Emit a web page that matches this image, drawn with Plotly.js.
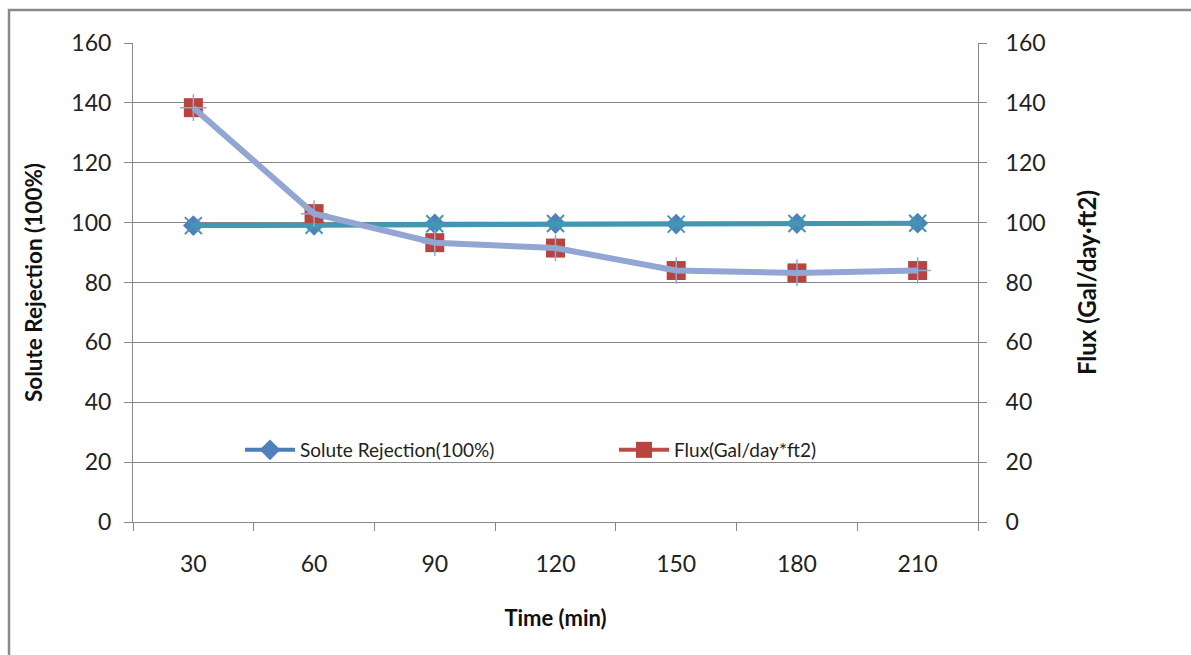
<!DOCTYPE html>
<html>
<head>
<meta charset="utf-8">
<script src="https://cdn.plot.ly/plotly-3.0.1.min.js"></script>
<style>
  html, body { margin: 0; padding: 0; background: #fff; }
  #chart { width: 1191px; height: 655px; }
</style>
</head>
<body>
<div id="chart"></div>
<script>
// Data
const timeLabels = ['30', '60', '90', '120', '150', '180', '210'];
const soluteRejection = [99.0, 99.1, 99.6, 99.7, 99.5, 99.7, 99.8];
const flux = [138.4, 103.0, 93.3, 91.5, 84.0, 83.2, 84.0];
const yTicks = [0, 20, 40, 60, 80, 100, 120, 140, 160];

const seriesNames = ['Solute Rejection(100%)', 'Flux(Gal/day*ft2)'];

const FONT = 'Lato, "Open Sans", sans-serif';
const AXIS_GRAY = '#868686';

const traces = [
  {
    x: timeLabels, y: soluteRejection, name: seriesNames[0], type: 'scatter', mode: 'lines+markers',
    line: { color: '#4A7EBB', width: 4 },
    marker: { symbol: 'diamond', size: 16, color: '#4F81BD' },
    yaxis: 'y'
  },
  {
    x: timeLabels, y: flux, name: seriesNames[1], type: 'scatter', mode: 'lines+markers',
    line: { color: '#BE4B48', width: 4 },
    marker: { symbol: 'square', size: 19, color: '#B7443F' },
    yaxis: 'y2'
  },
  {
    x: timeLabels, y: soluteRejection, name: seriesNames[0], type: 'scatter', mode: 'lines+markers',
    showlegend: false, hoverinfo: 'skip',
    line: { color: '#4198B0', width: 5 },
    marker: { symbol: 'x-thin-open', size: 17, line: { color: '#86CCE4', width: 2 } },
    yaxis: 'y'
  },
  {
    x: timeLabels, y: flux, name: seriesNames[1], type: 'scatter', mode: 'lines+markers',
    showlegend: false, hoverinfo: 'skip',
    line: { color: '#91A6D3', width: 6 },
    marker: { symbol: 'cross-thin-open', size: 19, line: { color: '#E8BDBB', width: 1.5 } },
    yaxis: 'y2'
  }
];

const L = 133, R = 978, T = 43, B = 522, W = 1191, H = 655;
const pw = R - L, ph = B - T;

const layout = {
  width: W, height: H,
  margin: { l: L, r: W - R, t: T, b: H - B, pad: 0 },
  paper_bgcolor: '#ffffff',
  plot_bgcolor: '#ffffff',
  font: { family: FONT, size: 23, color: '#222' },
  showlegend: true,
  legend: {
    orientation: 'h',
    x: (240 - L) / pw, y: (B - 450) / ph, xanchor: 'left', yanchor: 'middle',
    bgcolor: 'rgba(0,0,0,0)',
    font: { family: FONT, size: 19, color: '#222' },
    itemwidth: 50,
    entrywidth: 309, entrywidthmode: 'pixels',
    traceorder: 'normal'
  },
  xaxis: {
    type: 'category',
    range: [-0.5, timeLabels.length - 0.5],
    tickvals: timeLabels,
    ticktext: timeLabels,
    tickson: 'boundaries',
    ticks: 'outside', ticklen: 8, tickcolor: AXIS_GRAY, tickwidth: 1,
    showline: true, linecolor: AXIS_GRAY, linewidth: 1,
    showgrid: false, zeroline: false,
    ticklabelstandoff: 21,
    tickfont: { family: FONT, size: 23, color: '#222' },
    title: { text: 'Time (min)', font: { family: FONT, size: 22, color: '#111', weight: 'bold' }, standoff: 35 },
    fixedrange: true
  },
  yaxis: {
    range: [0, 160],
    tickvals: yTicks,
    ticks: 'outside', ticklen: 8, tickcolor: AXIS_GRAY, tickwidth: 1,
    showline: true, linecolor: AXIS_GRAY, linewidth: 1,
    showgrid: true, gridcolor: AXIS_GRAY, gridwidth: 1,
    zeroline: false,
    ticklabelstandoff: 8,
    tickfont: { family: FONT, size: 23, color: '#222' },
    title: { text: 'Solute Rejection (100%)', font: { family: FONT, size: 22.5, color: '#111', weight: 'bold' }, standoff: 22 },
    fixedrange: true
  },
  yaxis2: {
    range: [0, 160],
    tickvals: yTicks,
    overlaying: 'y', side: 'right', anchor: 'x',
    ticks: 'outside', ticklen: 8, tickcolor: AXIS_GRAY, tickwidth: 1,
    showline: true, linecolor: AXIS_GRAY, linewidth: 1,
    showgrid: false, zeroline: false,
    ticklabelstandoff: 14,
    tickfont: { family: FONT, size: 23, color: '#222' },
    title: { text: 'Flux (Gal/day·ft2)', font: { family: FONT, size: 24, color: '#111', weight: 'bold' }, standoff: 34 },
    fixedrange: true
  },
  shapes: [
    {
      type: 'rect', xref: 'paper', yref: 'paper',
      x0: (9 - L) / pw, x1: (W + 20 - L) / pw,
      y0: (B - (H + 20)) / ph, y1: (B - 10) / ph,
      line: { color: '#8A8A8A', width: 2.5 }, fillcolor: 'rgba(0,0,0,0)', layer: 'below'
    }
  ]
};

Plotly.newPlot('chart', traces, layout, { displayModeBar: false, staticPlot: true });
</script>
</body>
</html>
